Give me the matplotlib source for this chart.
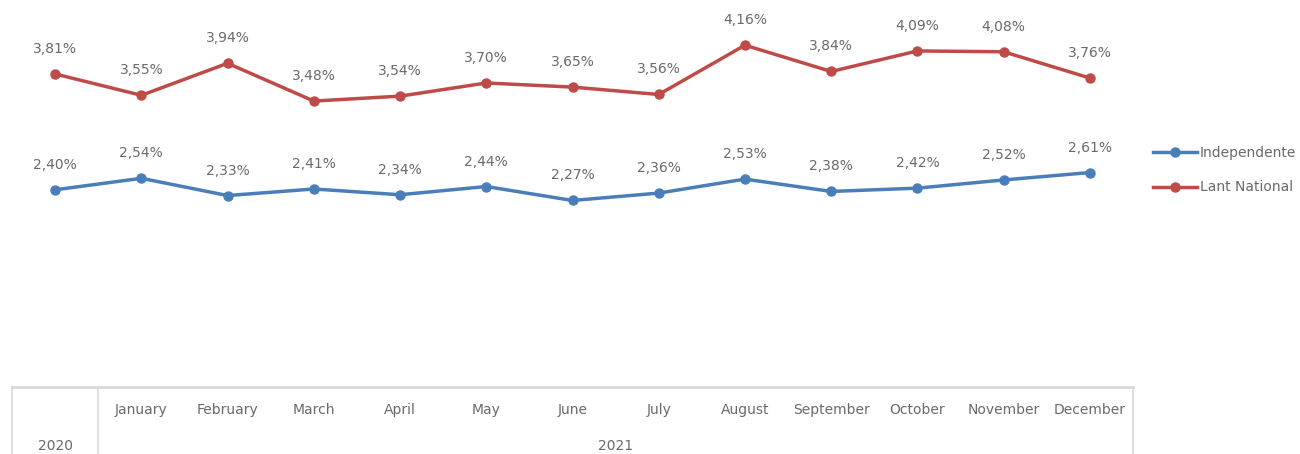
import matplotlib
matplotlib.use("Agg")
import matplotlib.pyplot as plt

months = ["", "January", "February", "March", "April", "May", "June", "July",
          "August", "September", "October", "November", "December"]
years = ["2020", "2021"]
independente = [2.40, 2.54, 2.33, 2.41, 2.34, 2.44, 2.27, 2.36, 2.53, 2.38, 2.42, 2.52, 2.61]
lant_national = [3.81, 3.55, 3.94, 3.48, 3.54, 3.70, 3.65, 3.56, 4.16, 3.84, 4.09, 4.08, 3.76]

W, H = 1300, 454
fig = plt.figure(figsize=(W / 100, H / 100), dpi=100)
plt.rcParams['font.family'] = ['DejaVu Sans']
ax_left, ax_right, ax_bottom_px = 12, 1133, 387
ax = fig.add_axes([ax_left / W, (H - ax_bottom_px) / H, (ax_right - ax_left) / W, ax_bottom_px / H])

blue = "#4A7EBB"
red = "#BE4B48"
label_col = "#6A6A6A"
grid_col = "#D9D9D9"
fs = 10

x = list(range(len(months)))
ax.plot(x, independente, color=blue, lw=2.5, marker='o', ms=6.5, label="Independente")
ax.plot(x, lant_national, color=red, lw=2.5, marker='o', ms=6.5, label="Lant National")

for xi, v in zip(x, independente):
    ax.annotate(f"{v:.2f}".replace('.', ',') + '%', (xi, v), xytext=(0, 18), textcoords='offset points',
                ha='center', va='center', fontsize=fs, color=label_col)
for xi, v in zip(x, lant_national):
    ax.annotate(f"{v:.2f}".replace('.', ',') + '%', (xi, v), xytext=(0, 18), textcoords='offset points',
                ha='center', va='center', fontsize=fs, color=label_col)

ax.set_xlim(-0.5, len(months) - 0.5)
ax.set_ylim(0, 4.71)
for s in ['top', 'left', 'right']:
    ax.spines[s].set_visible(False)
ax.spines['bottom'].set_color(grid_col)
ax.spines['bottom'].set_linewidth(2)
ax.set_yticks([])
ax.set_xticks([])

# multi-level category axis
trans = ax.get_xaxis_transform()
depth = -(H - ax_bottom_px) / ax_bottom_px
for xb in [-0.5, 0.5, len(months) - 0.5]:
    ax.plot([xb, xb], [0, depth], transform=trans, color=grid_col, lw=1.2, clip_on=False)
month_y = -(410 - ax_bottom_px) / ax_bottom_px
year_y = -(446 - ax_bottom_px) / ax_bottom_px
for xi, m in zip(x, months):
    if m:
        ax.text(xi, month_y, m, transform=trans, ha='center', va='center', fontsize=fs, color=label_col)
ax.text(0, year_y, years[0], transform=trans, ha='center', va='center', fontsize=fs, color=label_col)
ax.text((1 + len(months) - 1) / 2, year_y, years[1], transform=trans, ha='center', va='center',
        fontsize=fs, color=label_col)

leg = ax.legend(loc='center left', bbox_to_anchor=(1153 / W, 1 - 170 / H), bbox_transform=fig.transFigure,
                frameon=False, fontsize=fs, handlelength=3.2, handletextpad=0.15, labelspacing=1.5,
                labelcolor=label_col, borderaxespad=0, borderpad=0)

fig.savefig("out.png", dpi=100)
